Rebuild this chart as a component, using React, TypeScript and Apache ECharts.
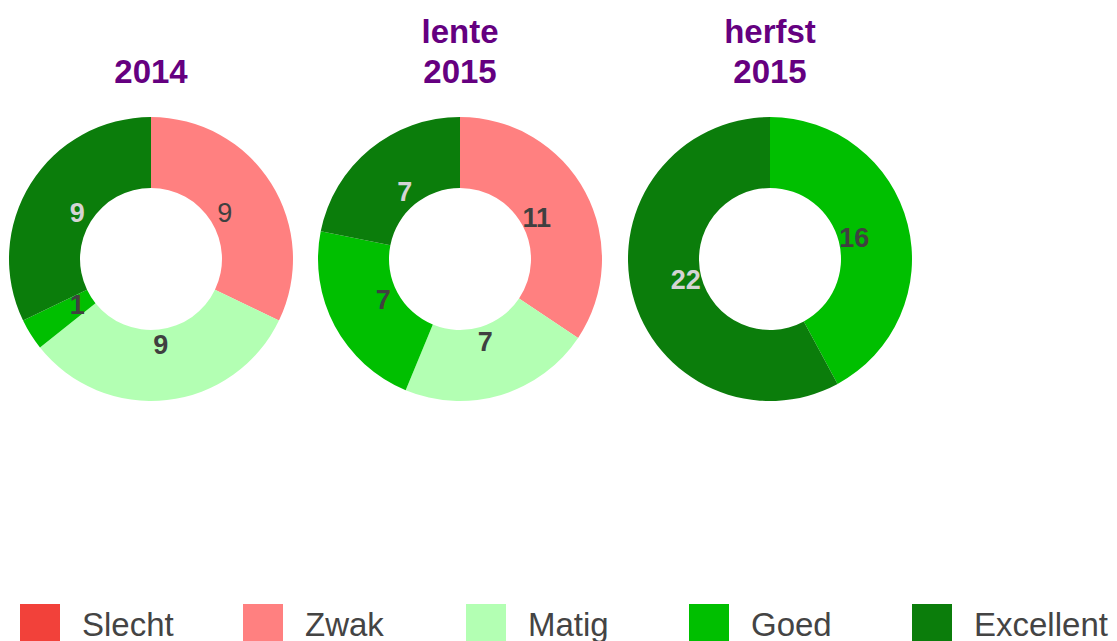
import React, { useEffect, useRef } from "react";
import * as echarts from "echarts";

const categories = ["Slecht", "Zwak", "Matig", "Goed", "Excellent"];
const colors = ["#f2413a", "#ff8080", "#b3ffb3", "#00bf00", "#0b7d0b"];
const labelColors = ["#404040", "#404040", "#404040", "#404040", "#d4d4d4"];
const periods = ["2014", "lente\n2015", "herfst\n2015"];
const values2014 = [0, 9, 9, 1, 9];
const valuesLente2015 = [0, 11, 7, 7, 7];
const valuesHerfst2015 = [0, 0, 0, 16, 22];
const allValues = [values2014, valuesLente2015, valuesHerfst2015];
// label weights as seen in the picture (2014 Zwak label is regular weight)
const labelWeights = [
  ["bold", "normal", "bold", "bold", "bold"],
  ["bold", "bold", "bold", "bold", "bold"],
  ["bold", "bold", "bold", "bold", "bold"],
];

const FONT = "'Liberation Sans', Arial, Helvetica, sans-serif";

export default function App() {
  const ref = useRef<HTMLDivElement>(null);
  useEffect(() => {
    if (!ref.current) return;
    const chart = echarts.init(ref.current, undefined, { renderer: "svg" });
    const centersX = [151, 460, 770];
    const centerY = 259;

    const titles = periods.map((p, i) => ({
      text: p,
      left: centersX[i],
      top: p.includes("\n") ? 11 : 51,
      textAlign: "center",
      padding: 0,
      textStyle: {
        color: "#650080",
        fontFamily: FONT,
        fontWeight: "bold",
        fontSize: 33,
        lineHeight: 40,
      },
    }));

    const visiblePies = allValues.map((vals, i) => ({
      type: "pie",
      name: periods[i],
      center: [centersX[i], centerY],
      radius: [71, 142],
      startAngle: 90,
      clockwise: true,
      silent: true,
      avoidLabelOverlap: false,
      label: { show: false },
      labelLine: { show: false },
      emphasis: { disabled: true },
      itemStyle: { borderWidth: 0 },
      data: categories.map((c, k) => ({
        name: c,
        value: vals[k],
        itemStyle: { color: colors[k] },
      })),
    }));

    const labelPies = allValues.map((vals, i) => ({
      type: "pie",
      name: periods[i] + "-labels",
      center: [centersX[i], centerY],
      radius: [70, 98],
      startAngle: 90,
      clockwise: true,
      silent: true,
      avoidLabelOverlap: false,
      labelLine: { show: false },
      emphasis: { disabled: true },
      itemStyle: { color: "rgba(0,0,0,0)", borderWidth: 0 },
      data: categories.map((c, k) => ({
        name: c,
        value: vals[k],
        itemStyle: { color: "rgba(0,0,0,0)" },
        label: {
          show: vals[k] > 0,
          position: "inside",
          formatter: "{c}",
          color: labelColors[k],
          fontFamily: FONT,
          fontSize: 27,
          fontWeight: labelWeights[i][k],
        },
      })),
    }));

    const legends = categories.map((c, k) => ({
      data: [{ name: c, itemStyle: { color: colors[k] } }],
      left: 20 + k * 223,
      top: 604,
      padding: 0,
      itemWidth: 40,
      itemHeight: 40,
      icon: "rect",
      selectedMode: false,
      textStyle: {
        color: "#444444",
        fontFamily: FONT,
        fontSize: 33,
        padding: [0, 0, 0, 17],
      },
    }));

    chart.setOption({
      animation: false,
      backgroundColor: "#ffffff",
      title: titles,
      legend: legends,
      series: [...visiblePies, ...labelPies],
    });
    return () => chart.dispose();
  }, []);
  return (
    <div
      ref={ref}
      style={{ position: "fixed", left: 0, top: 0, width: 1117, height: 641 }}
    />
  );
}
